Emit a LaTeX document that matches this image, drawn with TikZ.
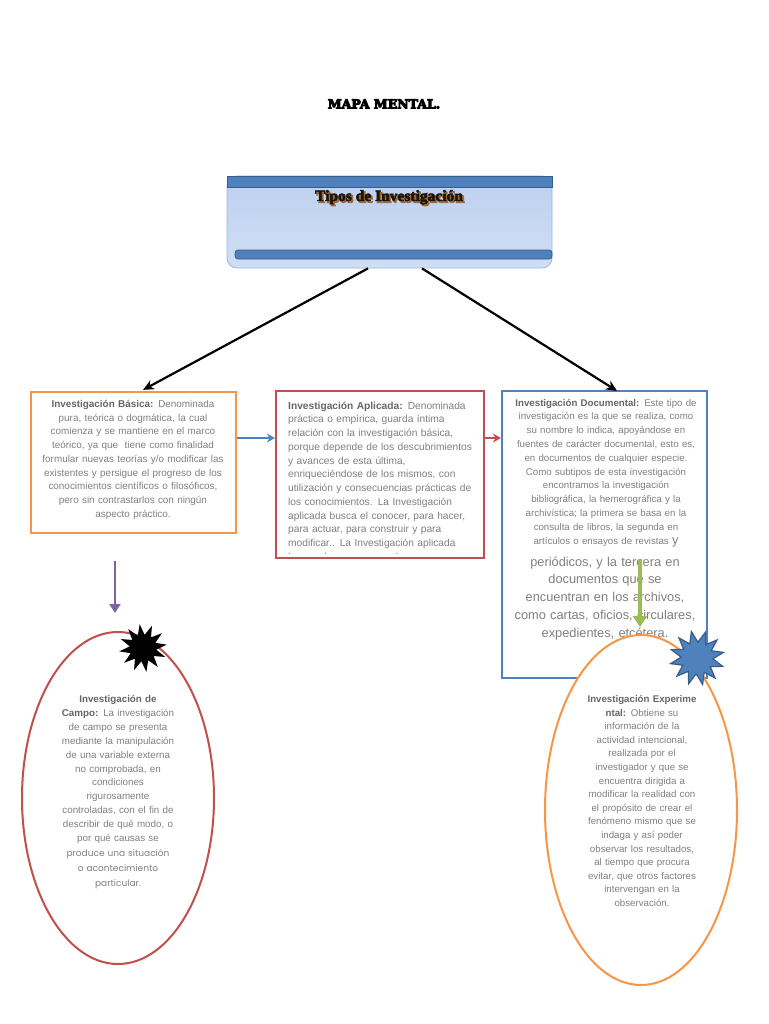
\documentclass[tikz,border=0pt]{standalone}
\usepackage{fontspec}
\setmainfont{Liberation Sans}
\newfontfamily\serifb{Liberation Serif}
\newfontfamily\titlef{DejaVu Serif}
\newfontfamily\geof{Poppins}
\usetikzlibrary{arrows.meta,shapes.geometric,calc}
\definecolor{ored}{HTML}{C0504D}
\definecolor{oorange}{HTML}{F79646}
\definecolor{oblue}{HTML}{4F81BD}
\definecolor{dblue}{HTML}{385D8A}
\definecolor{opurple}{HTML}{8064A2}
\definecolor{ogreen}{HTML}{9BBB59}
\definecolor{tgray}{HTML}{808080}
\definecolor{bgray}{HTML}{666666}
\definecolor{topA}{HTML}{BCD0F0}
\definecolor{topB}{HTML}{EAF1FB}
\definecolor{topC}{HTML}{D0DEF4}
\definecolor{topEdge}{HTML}{9DB7E0}
\definecolor{shadowbrown}{HTML}{9A6A3A}
\definecolor{titleink}{HTML}{1E1409}
\newcommand{\hd}[1]{{\bfseries\color{bgray}#1}}
\newcommand{\heavytext}[2]{\special{pdf:literal direct 2 Tr #1 w}#2\special{pdf:literal direct 0 Tr 1 w}}
\begin{document}
\begin{tikzpicture}[x=1pt,y=-1pt,
  frame/.style={draw, line width=2.2pt, inner sep=0pt},
  txt/.style={text=tgray, inner sep=0pt, anchor=base, align=center,
    font=\fontsize{9.9}{13.7}\selectfont},
  blackarrow/.style={draw=black, line width=2.2pt, -{Stealth[length=11pt,width=10pt]}},
  sidearrow/.style={line width=2.6pt, -{Stealth[length=8pt,width=9pt]}},
  band/.style={fill=oblue, draw=dblue, line width=0.8pt},
  heading/.style={font=\titlef\bfseries\fontsize{12.5}{14}\selectfont, inner sep=0pt},
  toplabel/.style={font=\serifb\bfseries\fontsize{15.5}{17}\selectfont, inner sep=0pt}
]
\useasboundingbox (0,0) rectangle (768,1024);
\fill[white] (0,0) rectangle (768,1024);

% title
\node[heading] (title) at (384,104) {\heavytext{0.9}{MAPA MENTAL.}};

% top box
\node[draw=topEdge, line width=0.8pt, rounded corners=10pt, top color=topA, middle color=topB, bottom color=topC,
      minimum width=325pt, minimum height=92pt, inner sep=0pt] (top) at (389.5,222) {};
\path[band] (227,176) rectangle (552,187);
\path[band, rounded corners=3pt] (235,250) rectangle (552,259);
\node[toplabel, text=titleink] (toptext) at (389,198) {\rlap{\kern1.6pt\raisebox{-1.6pt}{\color{shadowbrown}\heavytext{1.1}{Tipos de Investigación}}}\heavytext{0.5}{Tipos de Investigación}};

% boxes
\node[frame, draw=oorange, minimum width=205pt, minimum height=141pt] (basica) at (133.5,462.5) {};
\node[frame, draw=ored, minimum width=208pt, minimum height=167pt] (aplicada) at (380,474.5) {};
\node[frame, draw=oblue, minimum width=205pt, minimum height=287pt] (documental) at (604.5,534.5) {};

% box texts
\node[txt, text width=204pt] (tbasica) at (133,407.5) {\hd{Investigación Básica:} Denominada\\
pura, teórica o dogmática, la cual\\
comienza y se mantiene en el marco\\
teórico, ya que\ \ tiene como finalidad\\
formular nuevas teorías y/o modificar las\\
existentes y persigue el progreso de los\\
conocimientos científicos o filosóficos,\\
pero sin contrastarlos con ningún\\
aspecto práctico.};

\begin{scope}
\clip (278,393) rectangle (482,553.5);
\node[txt, align=left, anchor=base west, text width=200pt, font=\fontsize{10.2}{13.75}\selectfont] (taplicada) at (288,409) {\hd{Investigación Aplicada:} Denominada\\
práctica o empírica, guarda íntima\\
relación con la investigación básica,\\
porque depende de los descubrimientos\\
y avances de esta última,\\
enriqueciéndose de los mismos, con\\
utilización y consecuencias prácticas de\\
los conocimientos. La Investigación\\
aplicada busca el conocer, para hacer,\\
para actuar, para construir y para\\
modificar.. La Investigación aplicada\\
busca el conocer, para hacer};
\end{scope}

\node[txt, text width=204pt, font=\fontsize{9.7}{13.8}\selectfont] (tdoc1) at (606,406) {\hd{Investigación Documental:} Este tipo de\\
investigación es la que se realiza, como\\
su nombre lo indica, apoyándose en\\
fuentes de carácter documental, esto es,\\
en documentos de cualquier especie.\\
Como subtipos de esta investigación\\
encontramos la investigación\\
bibliográfica, la hemerográfica y la\\
archivística; la primera se basa en la\\
consulta de libros, la segunda en\\
artículos o ensayos de revistas {\fontsize{12.8}{14}\selectfont y}};
\node[txt, text width=204pt, font=\fontsize{12.8}{17.8}\selectfont] (tdoc2) at (605,566) {periódicos, y la tercera en\\
documentos que se\\
encuentran en los archivos,\\
como cartas, oficios, circulares,\\
expedientes, etcétera.};

% arrows from top
\draw[blackarrow] ($(top.south)+(-21.5,0)$) -- ($(basica.north)+(9.5,-1)$);
\draw[blackarrow] ($(top.south)+(32.5,0)$) -- ($(documental.north)+(12.5,1)$);

% side arrows
\draw[sidearrow, oblue] (basica.east |- 0,438) -- (aplicada.west |- 0,438);
\draw[sidearrow, ored] (aplicada.east |- 0,438) -- (documental.west |- 0,438);

% left ellipse
\node[ellipse, draw=ored, line width=2pt, fill=white, minimum width=192pt, minimum height=332pt, inner sep=0pt] (campo) at (118,798) {};
\draw[line width=2.2pt, opurple, -{Triangle[length=9pt,width=11pt]}] ($(basica.south)+(-18.5,27)$) -- ($(campo.north)+(-3,-18)$);
\node[txt, text width=150pt, font=\fontsize{9.8}{13.9}\selectfont] (tcampo1) at (118,702.5) {\hd{Investigación de}\\
\hd{Campo:} La investigación\\
de campo se presenta\\
mediante la manipulación\\
de una variable externa\\
no comprobada, en\\
condiciones\\
rigurosamente\\
controladas, con el fin de\\
describir de qué modo, o\\
por qué causas se};
\node[txt, text width=150pt, font=\geof\fontsize{9}{14.8}\selectfont] (tcampo2) at (118,856.5) {produce una situación\\
o acontecimiento\\
particular.};
\node[star, star points=12, star point ratio=1.8, minimum size=48pt, fill=black, inner sep=0pt, rotate=8] (bstar) at (143,648) {};

% right ellipse
\node[ellipse, draw=oorange, line width=2pt, fill=white, minimum width=192pt, minimum height=350pt, inner sep=0pt] (experimental) at (641,810) {};
\draw[line width=4pt, ogreen, -{Triangle[length=11pt,width=14pt]}] ($(experimental.north)+(-1,-75)$) -- ($(experimental.north)+(-1,-7)$);
\node[txt, text width=150pt, font=\fontsize{9.7}{13.6}\selectfont] (texp) at (642,702.5) {\hd{Investigación Experime}\\
\hd{ntal:} Obtiene su\\
información de la\\
actividad intencional,\\
realizada por el\\
investigador y que se\\
encuentra dirigida a\\
modificar la realidad con\\
el propósito de crear el\\
fenómeno mismo que se\\
indaga y así poder\\
observar los resultados,\\
al tiempo que procura\\
evitar, que otros factores\\
intervengan en la\\
observación.};
\node[star, star points=12, star point ratio=1.7, minimum size=54pt, fill=oblue, draw=dblue, line width=1.2pt, inner sep=0pt, rotate=12] (ustar) at (697,658) {};
\end{tikzpicture}
\end{document}
